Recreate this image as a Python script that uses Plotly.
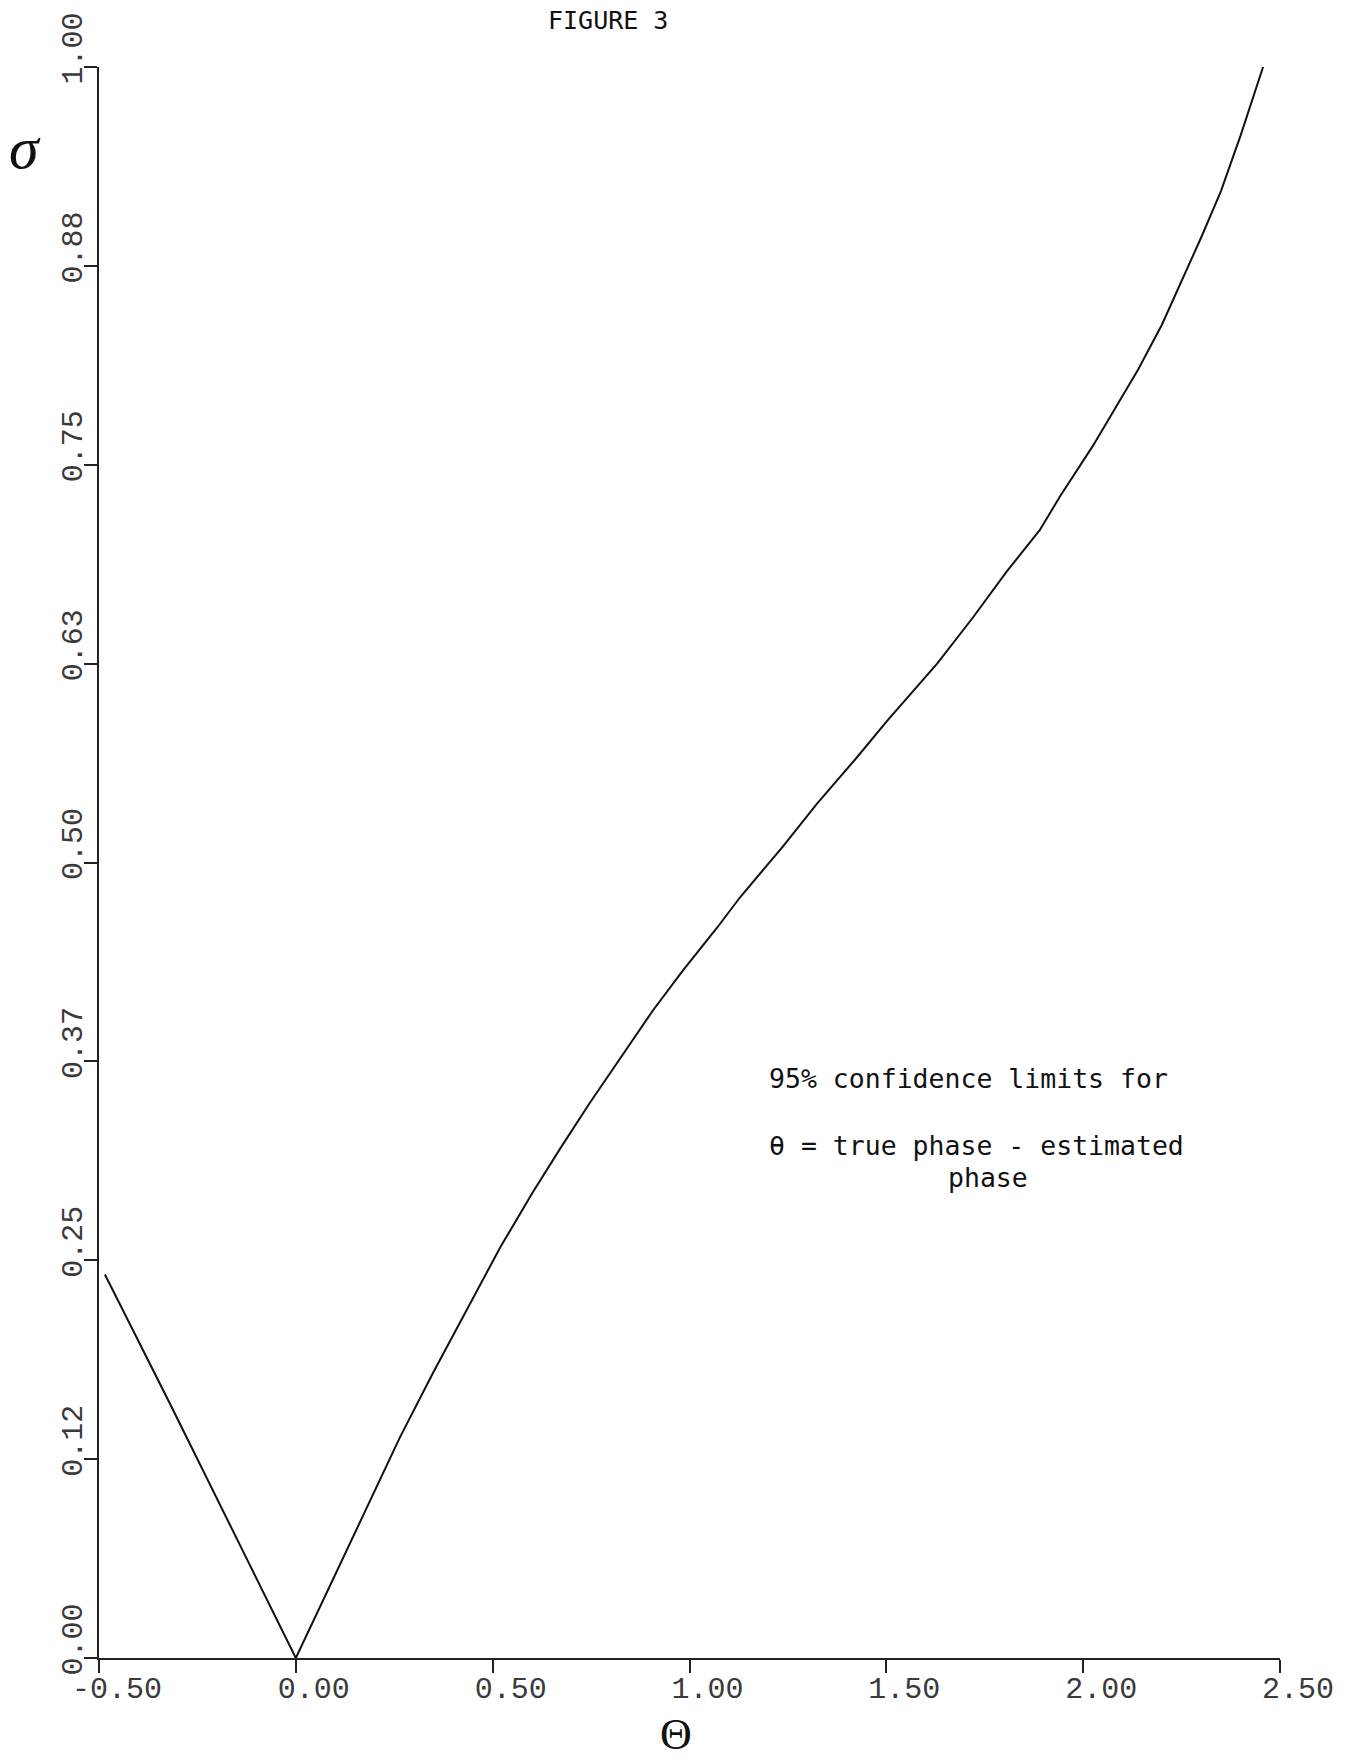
import plotly.graph_objects as go

# Data (theta = true phase - estimated phase, sigma)
theta = [-0.485, -0.32, -0.14, 0.0, 0.105, 0.188, 0.265, 0.348, 0.435, 0.519,
         0.600, 0.671, 0.747, 0.816, 0.907, 0.983, 1.070, 1.128, 1.237, 1.324,
         1.425, 1.502, 1.629, 1.720, 1.806, 1.890, 1.941, 2.025, 2.086, 2.140,
         2.200, 2.250, 2.300, 2.350, 2.400, 2.457]
sigma = [0.241, 0.160, 0.070, 0.0, 0.055, 0.099, 0.139, 0.179, 0.219, 0.258,
         0.292, 0.320, 0.349, 0.374, 0.407, 0.432, 0.459, 0.478, 0.510, 0.537,
         0.566, 0.589, 0.625, 0.654, 0.683, 0.709, 0.730, 0.762, 0.787, 0.810,
         0.838, 0.865, 0.893, 0.922, 0.957, 1.000]

x_tickvals = [-0.5, 0.0, 0.5, 1.0, 1.5, 2.0, 2.5]
x_ticktext = ["-0.50", "0.00", "0.50", "1.00", "1.50", "2.00", "2.50"]
y_tickvals = [0.0, 0.125, 0.25, 0.375, 0.5, 0.625, 0.75, 0.875, 1.0]
y_ticktext = ["0.00", "0.12", "0.25", "0.37", "0.50", "0.63", "0.75", "0.88", "1.00"]

W, H = 1359, 1761
L, R, T, B = 99, 79, 67, 103
pw, ph = W - L - R, H - T - B


def px(xp):
    return (xp - L) / pw


def py(yp):
    return (H - B - yp) / ph


tick_font = dict(family="Liberation Mono, DejaVu Sans Mono, monospace", size=30, color="#3a3a3a")
text_font = dict(family="DejaVu Sans Mono, monospace", size=26.5, color="#111")

fig = go.Figure()
fig.add_trace(go.Scatter(x=theta, y=sigma, mode="lines",
                         line=dict(color="#111", width=2), showlegend=False,
                         hoverinfo="skip"))

fig.update_layout(
    width=W, height=H,
    margin=dict(l=L, r=R, t=T, b=B, autoexpand=False),
    paper_bgcolor="white", plot_bgcolor="white",
    xaxis=dict(range=[-0.5, 2.5], showgrid=False, zeroline=False,
               showline=True, linecolor="#222", linewidth=1.5,
               ticks="outside", ticklen=13, tickwidth=1.5, tickcolor="#222",
               tickvals=x_tickvals, ticktext=x_ticktext, tickfont=tick_font,
               ticklabelshift=18, ticklabelstandoff=-11),
    yaxis=dict(range=[0, 1], showgrid=False, zeroline=False,
               showline=True, linecolor="#222", linewidth=1.5,
               ticks="outside", ticklen=13, tickwidth=1.5, tickcolor="#222",
               tickvals=y_tickvals, ticktext=y_ticktext, tickfont=tick_font,
               tickangle=-90, ticklabelshift=-14, ticklabelstandoff=-10),
)

annotations = [
    dict(text="FIGURE 3", x=px(608), y=py(20), font=dict(family="DejaVu Sans Mono, monospace", size=25, color="#111"),
         xanchor="center", yanchor="middle"),
    dict(text="<i>σ</i>", x=px(25), y=py(148), font=dict(family="Liberation Serif, serif", size=60, color="#111"),
         xanchor="center", yanchor="middle"),
    dict(text="Θ", x=px(676), y=py(1734), font=dict(family="Liberation Serif, serif", size=44, color="#111"),
         xanchor="center", yanchor="middle"),
    dict(text="95% confidence limits for", x=px(767), y=py(1078), font=text_font,
         xanchor="left", yanchor="middle"),
    dict(text="θ = true phase - estimated", x=px(767), y=py(1145), font=text_font,
         xanchor="left", yanchor="middle"),
    dict(text="phase", x=px(946), y=py(1177), font=text_font,
         xanchor="left", yanchor="middle"),
]
for a in annotations:
    a.update(xref="paper", yref="paper", showarrow=False)
fig.update_layout(annotations=annotations)

fig.write_html("out.html")
